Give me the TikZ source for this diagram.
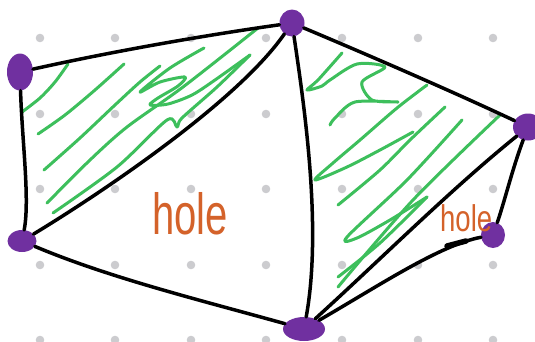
\documentclass[tikz,border=0pt]{standalone}
\usepackage{fontspec}
\setmainfont{Liberation Sans}
\usetikzlibrary{shapes.geometric}
\definecolor{vpurple}{HTML}{7030A0}
\definecolor{hgreen}{HTML}{3DBF5C}
\definecolor{horange}{HTML}{D4622A}
\definecolor{dotgray}{HTML}{CCCCCF}
\tikzset{
  vtx/.style={ellipse, fill=vpurple, inner sep=0pt},
  edge/.style={line width=3.5pt, black, line cap=round, line join=round},
  hatch/.style={line width=3pt, hgreen, line cap=round, line join=round},
  holetext/.style={text=horange, inner sep=0pt}
}
\begin{document}
\begin{tikzpicture}[x=1pt,y=-1pt]
\useasboundingbox (0,0) rectangle (535,341);
% dot grid
\foreach \gx in {40,115,191,266,342,418,493}
  \foreach \gy in {38,114,189,265,340}
    \fill[dotgray] (\gx,\gy) circle (4.3pt);
% green hatching, left triangle
\draw[hatch] plot[smooth] coordinates {(22,112) (40,98) (55,82) (68,64)};
\draw[hatch] plot[smooth] coordinates {(38,134) (65,115) (95,90) (124,64)};
\draw[hatch] plot[smooth] coordinates {(44,170) (80,138) (115,105) (140,82) (160,66)};
\draw[hatch] plot[smooth] coordinates {(204,48) (170,68) (140,92) (160,82) (185,77) (178,86) (158,98) (150,105) (168,104) (192,95) (215,80) (250,55)};
\draw[hatch] plot[smooth] coordinates {(47,203) (90,160) (127,127) (183,87) (258,28)};
\draw[hatch] plot[smooth] coordinates {(53,213) (117,167) (167,120) (177,127) (182,118) (217,87) (250,55)};
% green hatching, right triangle
\draw[hatch] plot[smooth] coordinates {(342,53) (318,80) (307,90) (322,86) (330,80) (357,64) (385,67) (362,82) (372,100) (398,102) (355,102) (335,118) (330,125)};
\draw[hatch] plot[smooth] coordinates {(427,85) (397,108) (360,140) (333,163) (315,180) (347,167) (380,150) (413,132)};
\draw[hatch] plot[smooth] coordinates {(445,107) (410,140) (380,170) (338,205)};
\draw[hatch] plot[smooth] coordinates {(462,120) (407,180) (347,237) (357,238) (390,220) (427,197)};
\draw[hatch] plot[smooth] coordinates {(500,115) (413,200) (338,287)};
\draw[hatch] plot[smooth] coordinates {(427,197) (380,243) (338,277)};
% vertices
\node[vtx, minimum width=26pt, minimum height=37pt] (A) at (20,72) {};
\node[vtx, minimum width=25pt, minimum height=27pt] (B) at (292,23) {};
\node[vtx, minimum width=29pt, minimum height=22pt] (C) at (22,241) {};
\node[vtx, minimum width=42pt, minimum height=24pt] (D) at (304,329) {};
\node[vtx, minimum width=30pt, minimum height=27pt] (E) at (528,127) {};
\node[vtx, minimum width=24pt, minimum height=26pt] (F) at (493,235) {};
% edges
\draw[edge] (A) .. controls (110,52) and (200,36) .. (B);
\draw[edge] (A) .. controls (22,140) and (30,200) .. (C);
\draw[edge] (C) .. controls (90,200) and (235,105) .. (B);
\draw[edge] (C) .. controls (110,278) and (200,300) .. (D);
\draw[edge] (B) .. controls (305,110) and (322,230) .. (D);
\draw[edge] (B) .. controls (380,60) and (460,95) .. (E);
\draw[edge] (D) .. controls (380,260) and (450,190) .. (E);
\draw[edge] (D) .. controls (380,285) and (440,245) .. (F);
\draw[edge] (E) .. controls (512,170) and (505,200) .. (F);
\draw[line width=5.5pt, line cap=round] (447,246) -- (466,241);
% labels
\node[holetext, anchor=base west] (h1) at (152,234) {\fontsize{40}{40}\selectfont\scalebox{1}[1.45]{hole}};
\node[holetext, anchor=base west] (h2) at (440,231) {\fontsize{27.5}{27.5}\selectfont\scalebox{1}[1.35]{hole}};
\end{tikzpicture}
\end{document}
